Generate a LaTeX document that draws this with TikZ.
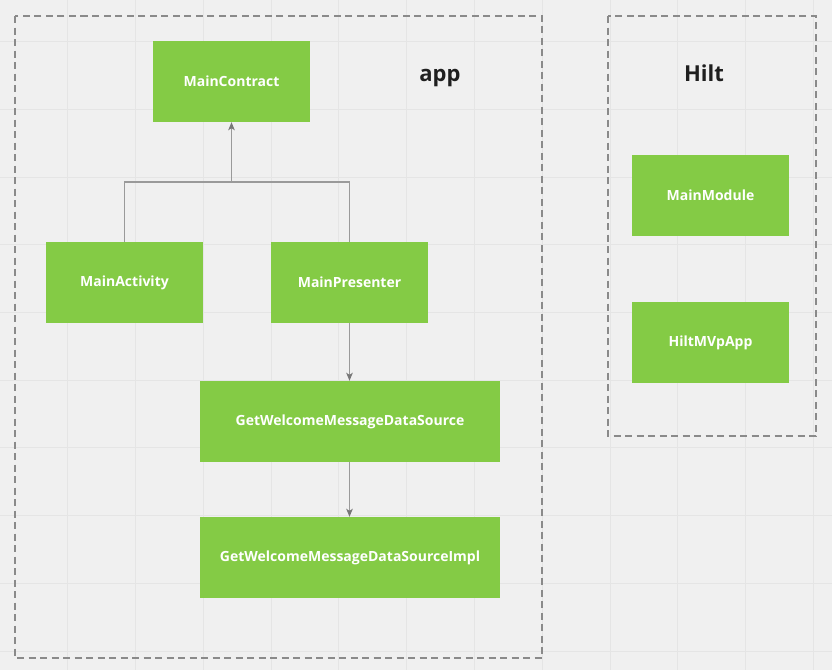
\documentclass[tikz,border=0pt]{standalone}
\usepackage{fontspec}
\setmainfont{Open Sans}
\usetikzlibrary{arrows.meta}
\definecolor{bg}{HTML}{F0F0F0}
\definecolor{gridc}{HTML}{E5E5E5}
\definecolor{boxg}{HTML}{84CB45}
\definecolor{dashc}{HTML}{8A8A8A}
\definecolor{linec}{HTML}{9A9A9A}
\definecolor{tipc}{HTML}{777777}
\tikzset{
  greenbox/.style={fill=boxg, draw=none, inner sep=0pt, font=\bfseries\fontsize{14}{16}\selectfont, text=white},
  grpbox/.style={draw=dashc, line width=1.3pt, dash pattern=on 7pt off 4.5pt},
  conn/.style={draw=linec, line width=1.3pt},
  arr/.style={conn, -{Stealth[length=8pt,width=6.5pt,inset=2pt,color=tipc]}},
  title/.style={font=\bfseries\fontsize{22}{26}\selectfont, text=black!88}
}
\begin{document}
\begin{tikzpicture}[x=1pt,y=-1pt]
\fill[bg] (0,0) rectangle (832,670);
\useasboundingbox (0,0) rectangle (832,670);
\foreach \i in {1,...,12} { \draw[gridc, line width=1pt] ({67.78*\i},0) -- ({67.78*\i},670); }
\foreach \j in {0,...,9} { \draw[gridc, line width=1pt] (0,{41.7+67.7*\j}) -- (832,{41.7+67.7*\j}); }
% groups
\draw[grpbox] (15,16) rectangle (542,658);
\draw[grpbox] (608,16) rectangle (816,436);
\node[title, anchor=base] (app) at (440,81) {app};
\node[title, anchor=base] (hilt) at (704,81) {Hilt};
% boxes
\node[greenbox, minimum width=157pt, minimum height=81pt] (mc) at (231.5,81.5) {MainContract};
\node[greenbox, minimum width=157pt, minimum height=81pt] (ma) at (124.5,282.5) {MainActivity};
\node[greenbox, minimum width=157pt, minimum height=81pt] (mp) at (349.5,282.5) {MainPresenter};
\node[greenbox, minimum width=300pt, minimum height=81pt] (ds) at (350,421.5) {GetWelcomeMessageDataSource};
\node[greenbox, minimum width=300pt, minimum height=81pt] (dsi) at (350,557.5) {GetWelcomeMessageDataSourceImpl};
\node[greenbox, minimum width=157pt, minimum height=81pt] (mm) at (710.5,195.5) {MainModule};
\node[greenbox, minimum width=157pt, minimum height=81pt] (ha) at (710.5,342.5) {HiltMVpApp};
% connectors
\coordinate (j) at (231.5,182);
\draw[conn] (ma.north) |- (j);
\draw[conn] (mp.north) |- (j);
\draw[arr] (j) -- (mc.south);
\draw[arr] (mp.south) -- (mp.south |- ds.north);
\draw[arr] (ds.south -| mp.south) -- (dsi.north -| mp.south);
\end{tikzpicture}
\end{document}
